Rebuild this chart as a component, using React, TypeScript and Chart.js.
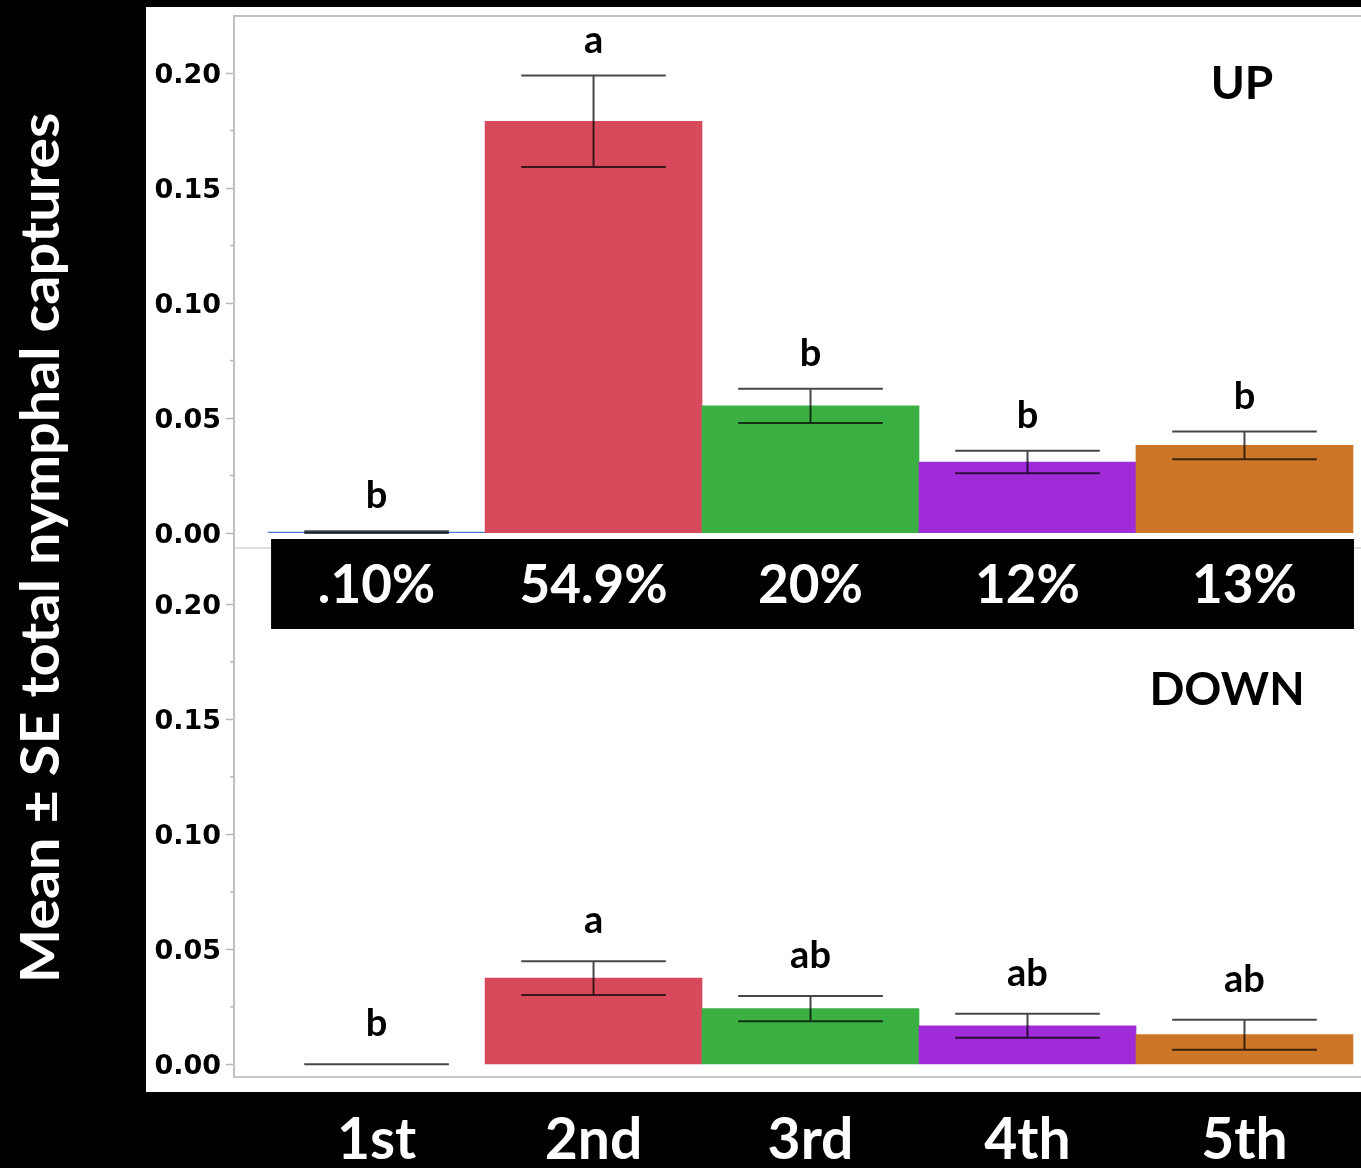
import React, { useEffect, useRef } from "react";
import { Chart, registerables } from "chart.js";

Chart.register(...registerables);

// Nymphal instars along the x axis
const instars = ["1st", "2nd", "3rd", "4th", "5th"];
const barColors = ["#4a78d8", "#d64a5b", "#3bb144", "#9f2bd9", "#ce7628"];

// UP traps: mean and standard error of total nymphal captures
const upMeans = [0.0004, 0.179, 0.0553, 0.0309, 0.0381];
const upSE = [0.0004, 0.0199, 0.0074, 0.0049, 0.006];
const upLetters = ["b", "a", "b", "b", "b"];
const upShare = [".10%", "54.9%", "20%", "12%", "13%"];

// DOWN traps
const downMeans = [0, 0.0375, 0.0242, 0.0168, 0.0129];
const downSE = [0, 0.0073, 0.0055, 0.0052, 0.0065];
const downLetters = ["b", "a", "ab", "ab", "ab"];

// y axis: minor ticks every 0.025, labels every 0.05
const yTickStep = 0.025;
const yLabelStep = 0.05;

const W = 1361;
const H = 1168;
const X_MIN = -0.657;
const X_MAX = 4.537;

const isLabelled = (v: number) =>
  Math.abs(v / yLabelStep - Math.round(v / yLabelStep)) < 1e-6;

type PanelOpts = {
  means: number[];
  ses: number[];
  letters: string[];
  letterGap: number;
  title: string;
  titleDx: number;
  titleDy: number;
  topLine: boolean;
  share?: string[];
};

const panelPlugin = {
  id: "panelDecor",
  afterDraw(chart: any, _args: any, opts: PanelOpts) {
    const { ctx, chartArea } = chart;
    const xs = chart.scales.x;
    const ys = chart.scales.y;
    const meta = chart.getDatasetMeta(0);
    ctx.save();

    // frame top line
    if (opts.topLine) {
      ctx.strokeStyle = "#c0c0c0";
      ctx.lineWidth = 2;
      ctx.beginPath();
      ctx.moveTo(chartArea.left, chartArea.top);
      ctx.lineTo(chartArea.right, chartArea.top);
      ctx.stroke();
    }

    // minor y ticks
    ctx.strokeStyle = "#b8b8b8";
    ctx.lineWidth = 1.5;
    ys.ticks.forEach((t: any) => {
      if (isLabelled(t.value)) return;
      const py = ys.getPixelForValue(t.value);
      ctx.beginPath();
      ctx.moveTo(chartArea.left - 4, py);
      ctx.lineTo(chartArea.left, py);
      ctx.stroke();
    });

    // error bars and significance letters
    meta.data.forEach((bar: any, i: number) => {
      const m = opts.means[i];
      const se = opts.ses[i];
      const half = bar.width / 3;
      const yTop = ys.getPixelForValue(m + se);
      const yBot = ys.getPixelForValue(Math.max(m - se, 0));
      ctx.strokeStyle = "rgba(0,0,0,0.72)";
      ctx.lineWidth = 2;
      ctx.beginPath();
      ctx.moveTo(bar.x - half, yTop);
      ctx.lineTo(bar.x + half, yTop);
      ctx.moveTo(bar.x - half, yBot);
      ctx.lineTo(bar.x + half, yBot);
      ctx.moveTo(bar.x, yTop);
      ctx.lineTo(bar.x, yBot);
      ctx.stroke();

      ctx.fillStyle = "#000";
      ctx.font = "bold 38px Lato";
      ctx.textAlign = "center";
      ctx.textBaseline = "alphabetic";
      ctx.fillText(opts.letters[i], bar.x, yTop - opts.letterGap);
    });

    // panel title
    ctx.fillStyle = "#000";
    ctx.font = "bold 46px Lato";
    ctx.textAlign = "center";
    ctx.textBaseline = "alphabetic";
    ctx.fillText(opts.title, chartArea.right - opts.titleDx, chartArea.top + opts.titleDy);

    // share of captures per instar
    if (opts.share) {
      const left = xs.getPixelForValue(-0.5) + 3;
      const right = xs.getPixelForValue(4.5) + 1;
      const top = chartArea.top - 9;
      ctx.fillStyle = "#000";
      ctx.fillRect(left, top, right - left, 90);
      ctx.fillStyle = "#fff";
      ctx.font = "bold 53px Lato";
      ctx.textAlign = "center";
      ctx.textBaseline = "alphabetic";
      opts.share.forEach((s, i) => {
        ctx.fillText(s, xs.getPixelForValue(i), top + 64);
      });
    }
    ctx.restore();
  },
};

function makeConfig(
  means: number[],
  yMin: number,
  yMax: number,
  padding: any,
  showX: boolean,
  decor: PanelOpts
): any {
  return {
    type: "bar",
    data: {
      datasets: [
        {
          data: means.map((v, i) => ({ x: i, y: v })),
          backgroundColor: (c: any) =>
            c.raw && c.raw.y === 0 ? "rgba(0,0,0,0)" : barColors[c.dataIndex],
          borderWidth: 0,
          barPercentage: 1,
          categoryPercentage: 1,
        },
      ],
    },
    options: {
      responsive: false,
      animation: false,
      layout: { padding },
      plugins: {
        legend: { display: false },
        tooltip: { enabled: false },
        panelDecor: decor,
      },
      scales: {
        x: {
          type: "linear",
          min: X_MIN,
          max: X_MAX,
          offset: false,
          ticks: {
            display: showX,
            stepSize: 1,
            includeBounds: false,
            autoSkip: false,
            maxRotation: 0,
            padding: 29,
            color: "#fff",
            font: { family: "Lato", weight: "bold", size: 57 },
            callback: (v: number) => instars[v] ?? "",
          },
          grid: { display: false, drawTicks: false, offset: false },
          border: { display: true, color: showX ? "#c8c8c8" : "#dedede", width: 2 },
          afterFit: (s: any) => {
            s.height = showX ? 91 : 0;
            s.paddingLeft = 0;
            s.paddingRight = 0;
          },
        },
        y: {
          min: yMin,
          max: yMax,
          ticks: {
            stepSize: yTickStep,
            includeBounds: false,
            maxTicksLimit: 20,
            autoSkip: false,
            padding: 5,
            labelOffset: 3,
            color: "#000",
            font: { family: "DejaVu Sans", weight: "bold", size: 27 },
            callback: (v: number) => (isLabelled(v) ? Number(v).toFixed(2) : ""),
          },
          grid: {
            drawOnChartArea: false,
            drawTicks: true,
            tickLength: 8,
            tickWidth: 1.5,
            tickColor: (c: any) =>
              c.tick && isLabelled(c.tick.value) ? "#b8b8b8" : "rgba(0,0,0,0)",
          },
          border: { display: true, color: "#c0c0c0", width: 2 },
          afterFit: (s: any) => {
            s.width = 88;
            s.paddingTop = 0;
            s.paddingBottom = 0;
          },
        },
      },
    },
    plugins: [panelPlugin],
  };
}

export default function App() {
  const upRef = useRef<HTMLCanvasElement>(null);
  const downRef = useRef<HTMLCanvasElement>(null);

  useEffect(() => {
    const up = new Chart(
      upRef.current!,
      makeConfig(upMeans, -0.0065, 0.2248, { left: 146, top: 16, right: 0, bottom: 620 }, false, {
        means: upMeans,
        ses: upSE,
        letters: upLetters,
        letterGap: 23,
        title: "UP",
        titleDx: 119,
        titleDy: 83,
        topLine: true,
      })
    );
    const down = new Chart(
      downRef.current!,
      makeConfig(downMeans, -0.0055, 0.2245, { left: 146, top: 548, right: 0, bottom: 0 }, true, {
        means: downMeans,
        ses: downSE,
        letters: downLetters,
        letterGap: 28,
        title: "DOWN",
        titleDx: 134,
        titleDy: 157,
        topLine: false,
        share: upShare,
      })
    );
    const fonts: any = (document as any).fonts;
    if (fonts && fonts.load) {
      Promise.all([fonts.load("bold 50px Lato"), fonts.load("bold 26px 'DejaVu Sans'")]).then(() => {
        up.update();
        down.update();
      });
    }
    return () => {
      up.destroy();
      down.destroy();
    };
  }, []);

  return (
    <div
      style={{
        position: "absolute",
        left: 0,
        top: 0,
        width: W,
        height: H,
        background: "#000",
        overflow: "hidden",
      }}
    >
      <div
        style={{
          position: "absolute",
          left: 146,
          top: 7,
          width: W - 146,
          height: 1085,
          background: "#fff",
        }}
      />
      <div
        style={{
          position: "absolute",
          left: 39,
          top: 548,
          transform: "translate(-50%, -50%) rotate(-90deg) scaleX(1.065)",
          color: "#fff",
          fontFamily: "Lato",
          fontWeight: "bold",
          fontSize: 54,
          whiteSpace: "nowrap",
          lineHeight: 1.2,
        }}
      >
        Mean ± SE total nymphal captures
      </div>
      <canvas
        ref={upRef}
        width={W}
        height={H}
        style={{ position: "absolute", left: 0, top: 0 }}
      />
      <canvas
        ref={downRef}
        width={W}
        height={H}
        style={{ position: "absolute", left: 0, top: 0 }}
      />
    </div>
  );
}
